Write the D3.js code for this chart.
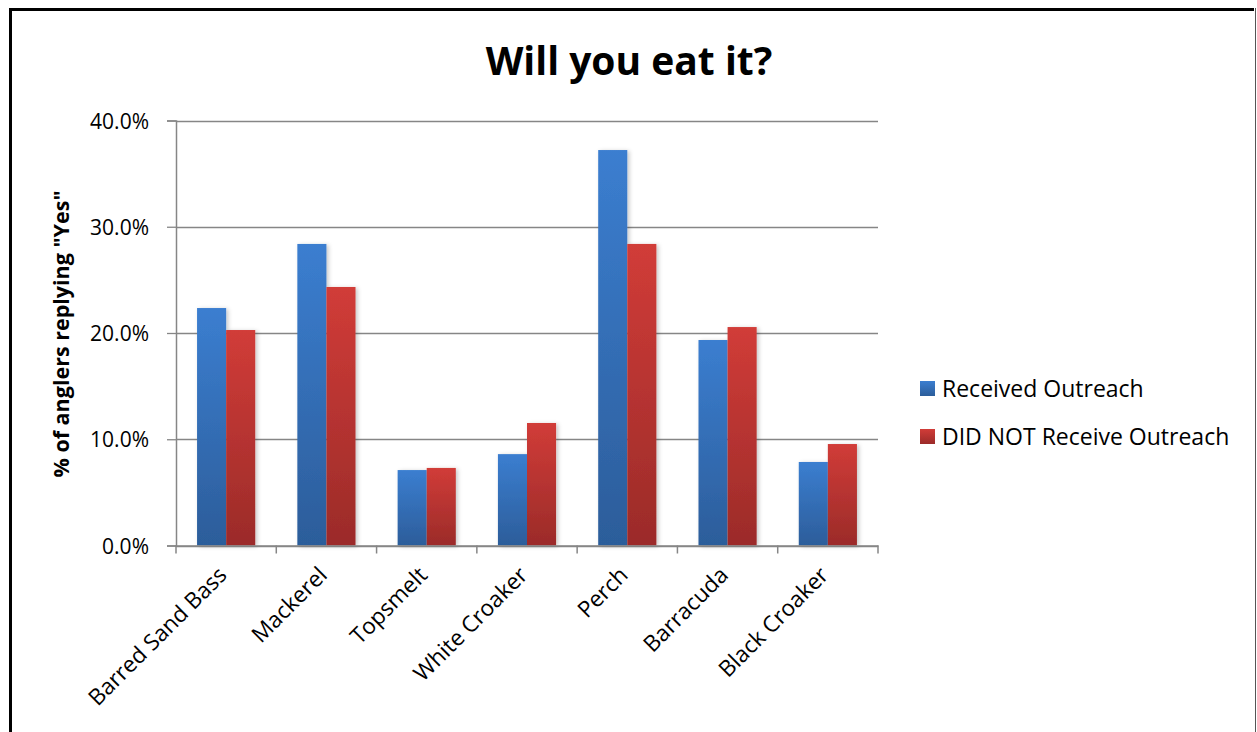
<!DOCTYPE html>
<html>
<head>
<meta charset="utf-8">
<script src="https://cdn.jsdelivr.net/npm/d3@7"></script>
<style>
  html, body { margin: 0; padding: 0; background: #fff; }
  svg { display: block; }
  text { font-family: "Open Sans", Lato, sans-serif; fill: #000; }
</style>
</head>
<body>
<script>
// Survey results: share of anglers answering "Yes" when asked if they would eat each fish
const categories = ["Barred Sand Bass", "Mackerel", "Topsmelt", "White Croaker", "Perch", "Barracuda", "Black Croaker"];
const seriesNames = ["Received Outreach", "DID NOT Receive Outreach"];
const receivedOutreach = [0.2235, 0.2838, 0.0710, 0.0860, 0.3722, 0.1934, 0.0786];
const noOutreach       = [0.2028, 0.2433, 0.0730, 0.1153, 0.2838, 0.2056, 0.0955];
const yTicks = [0, 0.1, 0.2, 0.3, 0.4];

const W = 1257, H = 732;
const plot = { left: 176, right: 878, top: 120.5, bottom: 545.5 };

const svg = d3.select("body").append("svg").attr("width", W).attr("height", H);
const defs = svg.append("defs");

function gradient(id, top, bottom) {
  const g = defs.append("linearGradient").attr("id", id)
    .attr("x1", 0).attr("y1", 0).attr("x2", 0).attr("y2", 1);
  g.append("stop").attr("offset", "0%").attr("stop-color", top);
  g.append("stop").attr("offset", "100%").attr("stop-color", bottom);
}
gradient("gBlue", "#3b7ed0", "#2c5d9a");
gradient("gRed", "#d13c38", "#9b2b29");

const shadow = defs.append("filter").attr("id", "barShadow")
  .attr("x", "-20%").attr("y", "-5%").attr("width", "150%").attr("height", "115%");
shadow.append("feDropShadow").attr("dx", 2).attr("dy", 1).attr("stdDeviation", 2)
  .attr("flood-color", "#000").attr("flood-opacity", 0.22);

// Frame around the chart area
svg.append("line").attr("x1", 9).attr("x2", 1254).attr("y1", 9.5).attr("y2", 9.5)
  .attr("stroke", "#000").attr("stroke-width", 3);
svg.append("line").attr("x1", 10.5).attr("x2", 10.5).attr("y1", 8).attr("y2", H)
  .attr("stroke", "#000").attr("stroke-width", 3);
svg.append("line").attr("x1", 1255.5).attr("x2", 1255.5).attr("y1", 8).attr("y2", H)
  .attr("stroke", "#555").attr("stroke-width", 1);

const x = d3.scaleBand().domain(categories).range([plot.left, plot.right]).padding(0);
const y = d3.scaleLinear().domain([0, 0.4]).range([plot.bottom, plot.top]);
const series = [
  { name: seriesNames[0], values: receivedOutreach, fill: "url(#gBlue)" },
  { name: seriesNames[1], values: noOutreach, fill: "url(#gRed)" }
];
const barW = x.bandwidth() * 0.29;
const groupOffset = (x.bandwidth() - 2 * barW) / 2;

// Gridlines
svg.append("g").selectAll("line").data(yTicks).join("line")
  .attr("x1", plot.left).attr("x2", plot.right)
  .attr("y1", d => Math.round(y(d)) + 0.5).attr("y2", d => Math.round(y(d)) + 0.5)
  .attr("stroke", "#868686").attr("stroke-width", 1.3);

// Bars
const bars = svg.append("g").attr("filter", "url(#barShadow)");
series.forEach((s, si) => {
  bars.append("g").selectAll("rect").data(categories).join("rect")
    .attr("x", c => x(c) + groupOffset + si * barW)
    .attr("y", (c, i) => y(s.values[i]))
    .attr("width", barW)
    .attr("height", (c, i) => y(0) - y(s.values[i]))
    .attr("fill", s.fill);
});

// Y axis
const yAxis = svg.append("g").attr("transform", `translate(${plot.left},0)`)
  .call(d3.axisLeft(y).tickValues(yTicks).tickFormat(d3.format(".1%")).tickSize(9).tickPadding(18));
yAxis.select(".domain").attr("stroke", "#868686").attr("stroke-width", 1.5);
yAxis.selectAll(".tick line").attr("stroke", "#868686").attr("stroke-width", 1.3);
yAxis.selectAll(".tick text").attr("font-size", 21).attr("font-family", "'Open Sans', sans-serif")
  .attr("fill", "#000").attr("dy", "0.36em");

// X axis
const xAxis = svg.append("g").attr("transform", `translate(0,${plot.bottom})`)
  .call(d3.axisBottom(x).tickSize(0).tickFormat(""));
xAxis.select(".domain").attr("stroke", "#868686").attr("stroke-width", 1.5);
svg.append("g").selectAll("line").data(categories.concat([null])).join("line")
  .attr("x1", (c, i) => plot.left + i * x.step()).attr("x2", (c, i) => plot.left + i * x.step())
  .attr("y1", plot.bottom).attr("y2", plot.bottom + 8)
  .attr("stroke", "#868686").attr("stroke-width", 1.5);

svg.append("g").selectAll("text").data(categories).join("text")
  .attr("transform", c => `translate(${x(c) + x.bandwidth() / 2 + 2},${plot.bottom + 31}) rotate(-45)`)
  .attr("text-anchor", "end")
  .attr("font-size", 22.5)
  .text(c => c);

// Titles
svg.append("text").attr("x", 629).attr("y", 75).attr("text-anchor", "middle")
  .attr("font-size", 39).attr("font-weight", "bold").text("Will you eat it?");
svg.append("text")
  .attr("transform", `translate(69,${(plot.top + plot.bottom) / 2 + 1}) rotate(-90)`)
  .attr("text-anchor", "middle").attr("font-size", 21.5).attr("font-weight", "bold")
  .text('% of anglers replying "Yes"');

// Legend
const legend = svg.append("g").selectAll("g").data(series).join("g")
  .attr("transform", (d, i) => `translate(920,${389 + i * 48})`);
legend.append("rect").attr("x", 0).attr("y", -8).attr("width", 15).attr("height", 15)
  .attr("fill", d => d.fill);
legend.append("text").attr("x", 22).attr("y", 8).attr("font-size", 23).text(d => d.name);
</script>
</body>
</html>
